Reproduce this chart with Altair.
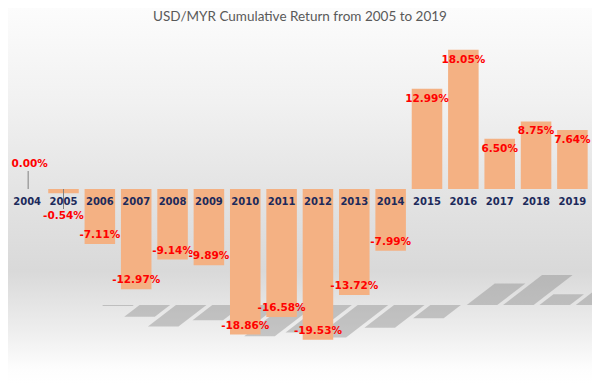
import altair as alt
import pandas as pd

# ---- data ----
years = [str(y) for y in range(2004, 2020)]
values = [0.00, -0.54, -7.11, -12.97, -9.14, -9.89, -18.86, -16.58, -19.53,
          -13.72, -7.99, 12.99, 18.05, 6.50, 8.75, 7.64]
labels = [f"{v:.2f}%" for v in values]
title_text = "USD/MYR Cumulative Return from 2005 to 2019"

# ---- layout / style ----
W, H = 584, 376
X_RANGE = [0.975, 582.575]
Y_DOMAIN = [-25.26, 23.45]
BAR_COLOR = "#F4B183"
LABEL_RED = "#FF0000"
YEAR_NAVY = "#1C2A5B"
FONT = "DejaVu Sans"

df = pd.DataFrame({"year": years, "value": values, "label": labels})
df["zero"] = 0.0

# perspective "floor" shadow of each bar (derived from the values)
FLOOR, DEPTH, SHIFT, SKEW, HALF = -15.03, 0.215, 1.513, 0.0594, 0.42
rows = []
for i, (yr, v) in enumerate(zip(years, values)):
    if v == 0:
        continue
    for k, yy in [(0, FLOOR), (1, FLOOR + DEPTH * v)]:
        off = SHIFT + SKEW * v * k
        rows.append({"year": yr, "sy": yy, "sx": i - HALF + off, "sx2": i + HALF + off, "k": k})
shadow_df = pd.DataFrame(rows)

yscale = alt.Scale(domain=Y_DOMAIN, nice=False, zero=False)
xband = alt.X("year:N", sort=years, axis=None,
              scale=alt.Scale(domain=years, range=X_RANGE, paddingInner=0.16, paddingOuter=0.08))

# background gradient
bg = alt.Chart(pd.DataFrame({"a": [0]})).mark_rect(
    fill=alt.LinearGradient(
        gradient="linear", x1=0, x2=0, y1=0, y2=1,
        stops=[
            alt.GradientStop(color="#fcfcfc", offset=0),
            alt.GradientStop(color="#f1f1f1", offset=0.25),
            alt.GradientStop(color="#e4e4e4", offset=0.48),
            alt.GradientStop(color="#d9d9d9", offset=0.70),
            alt.GradientStop(color="#eeeeee", offset=0.86),
            alt.GradientStop(color="#fdfdfd", offset=0.96),
            alt.GradientStop(color="#ffffff", offset=1),
        ],
    )
).encode(x=alt.value(0), x2=alt.value(W), y=alt.value(0), y2=alt.value(H))

shadow = alt.Chart(shadow_df).mark_area(
    orient="horizontal", fill="#7f7f7f", opacity=0.38
).encode(
    y=alt.Y("sy:Q", scale=yscale, axis=None),
    x=alt.X("sx:Q", axis=None, stack=None,
            scale=alt.Scale(domain=[-0.5268, 15.539], nice=False, zero=False)),
    x2="sx2:Q",
    detail="year:N",
)

base = alt.Chart(df)

bars = base.mark_bar(color=BAR_COLOR).encode(
    x=xband, y=alt.Y("value:Q", scale=yscale, axis=None), y2="zero:Q"
)

year_text = base.mark_text(
    font=FONT, fontSize=10, fontWeight="bold", color=YEAR_NAVY, baseline="middle", dy=13
).encode(x=xband, y=alt.Y("zero:Q", scale=yscale, axis=None), text="year:N")

lbl_kw = dict(font=FONT, fontSize=10.5, fontWeight="bold", color=LABEL_RED, baseline="middle")
pos_lbl = base.transform_filter("datum.value >= 1").mark_text(dy=10, **lbl_kw).encode(
    x=xband, y=alt.Y("value:Q", scale=yscale, axis=None), text="label:N")
neg_lbl = base.transform_filter("datum.value <= -1").mark_text(dy=-9, **lbl_kw).encode(
    x=xband, y=alt.Y("value:Q", scale=yscale, axis=None), text="label:N")
small_pos = base.transform_filter("abs(datum.value) < 1 && datum.value >= 0").mark_text(
    dy=-25, dx=2.5, **lbl_kw).encode(
    x=xband, y=alt.Y("value:Q", scale=yscale, axis=None), text="label:N")
small_neg = base.transform_filter("abs(datum.value) < 1 && datum.value < 0").mark_text(
    dy=23, **lbl_kw).encode(
    x=xband, y=alt.Y("value:Q", scale=yscale, axis=None), text="label:N")

leader_pos = base.transform_filter("abs(datum.value) < 1 && datum.value >= 0").mark_rule(
    color="#808080", strokeWidth=1, yOffset=-18, xOffset=1).encode(
    x=xband, y=alt.Y("zero:Q", scale=yscale, axis=None), y2="zero:Q")
leader_neg = base.transform_filter("abs(datum.value) < 1 && datum.value < 0").mark_rule(
    color="#808080", strokeWidth=1, y2Offset=20).encode(
    x=xband, y=alt.Y("zero:Q", scale=yscale, axis=None), y2="zero:Q")

title = alt.Chart(pd.DataFrame({"t": [title_text]})).mark_text(
    font="Lato", fontSize=13.5, color="#595959", baseline="middle", align="center"
).encode(text="t:N", x=alt.value(292), y=alt.value(9))

chart = alt.layer(
    bg, shadow, bars, leader_pos, leader_neg, year_text,
    pos_lbl, neg_lbl, small_pos, small_neg, title
).resolve_scale(x="independent").properties(
    width=W, height=H, padding=0, autosize=alt.AutoSizeParams(type="none"),
    background="white"
).configure_view(stroke=None)

chart.save("out.html", embed_options={"renderer": "svg", "actions": False})
